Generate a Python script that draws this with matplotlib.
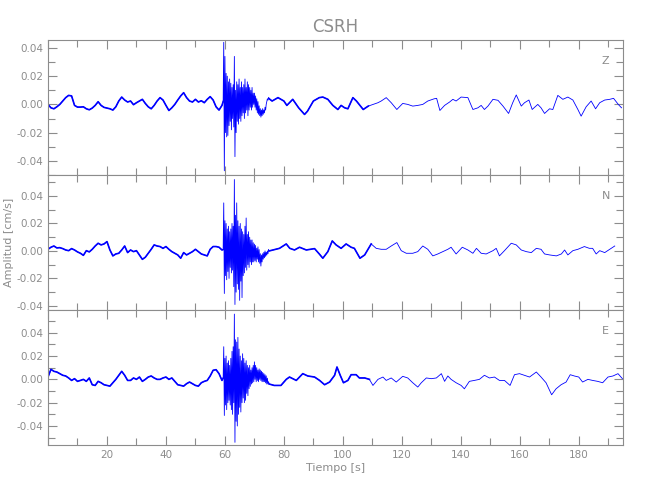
import matplotlib
matplotlib.use("Agg")
import matplotlib.pyplot as plt
import numpy as np
from matplotlib.ticker import MultipleLocator, FormatStrFormatter, FuncFormatter

# Componente Z: tramo previo (1 muestra/s desde t=0), ráfaga (cada 0.2 s desde 59.4 s), tramo posterior
z_pre = [0.0, -0.0024, -0.0031, -0.0017, 0.0, 0.0024, 0.0048, 0.0064, 0.0060, -0.0007,
         -0.0019, -0.0019, -0.0017, -0.0031, -0.0038, -0.0026, -0.0007, 0.0019, -0.0007, -0.0021,
         -0.0026, -0.0031, -0.0040, -0.0017, 0.0024, 0.0052, 0.0031, 0.0017, 0.0024, -0.0002,
         0.0012, 0.0024, 0.0036, 0.0007, -0.0017, -0.0031, -0.0007, 0.0024, 0.0048, 0.0031,
         -0.0007, -0.0043, -0.0024, 0.0, 0.0031, 0.0060, 0.0083, 0.0048, 0.0024, 0.0017,
         0.0036, 0.0017, 0.0026, 0.0012, 0.0036, 0.0055, 0.0031, -0.0017, -0.0040, -0.0007]
z_burst = [0.002, 0.044, -0.047, 0.034, -0.020, 0.022, -0.023, 0.020, -0.022, 0.016,
           -0.015, 0.018, -0.012, 0.015, -0.018, 0.012, -0.010, 0.014, -0.016, 0.034,
           -0.037, 0.010, -0.020, 0.016, -0.012, 0.014, -0.014, 0.018, -0.010, 0.012,
           -0.012, 0.016, -0.008, 0.012, -0.006, 0.014, -0.010, 0.018, -0.006, 0.012,
           -0.004, 0.016, -0.008, 0.014, -0.004, 0.012, -0.002, 0.010, -0.004, 0.012,
           -0.002, 0.008, 0.000, 0.008, -0.002, 0.006, -0.004, 0.004, -0.006, 0.002,
           -0.007, -0.001, -0.008, -0.003, -0.009, -0.004, -0.008, -0.003, -0.007, -0.004,
           -0.006, -0.002, -0.004, 0.000, 0.002, 0.004, 0.003, 0.005, 0.004]
z_post_t = [76, 78, 80, 81, 83, 85, 87, 88, 90, 92, 93.2, 94.9, 96.6, 98.3, 99.4, 100.6,
            101.7, 103.4, 104.6, 105.8, 106.9, 108.6, 110.2, 111.9, 113, 114.7, 116.4, 118.3,
            120.3, 122, 123.7, 125.4, 127.1, 128.8, 131, 131.8, 132.9, 134.5, 136.2, 137.3,
            138.4, 140.1, 142.4, 144.1, 145.8, 146.9, 148, 149.2, 150.9, 152.6, 154.3, 156.2,
            157.6, 158.8, 160.5, 161.6, 163.1, 164.2, 166.1, 167.2, 168.4, 170.1, 171.2, 172.9,
            174.6, 176.3, 178, 179.7, 180.8, 182.5, 184.2, 185.7, 187.1, 188.8, 190.5, 191.8,
            193.4, 194.5]
z_post = [0.0024, 0.0048, 0.0024, -0.0007, 0.0036, -0.0024, -0.0071, -0.0048, 0.0024, 0.0048,
          0.0052, 0.0036, -0.0007, -0.0036, -0.0007, -0.0024, -0.0031, 0.0048, 0.0024, -0.0007,
          -0.0036, -0.0012, 0.0, 0.0012, 0.0024, 0.0048, 0.0012, -0.0036, 0.0007, 0.0,
          -0.0012, -0.0007, 0.0, 0.0024, 0.0040, 0.0043, -0.0043, -0.0007, 0.0017, 0.0036,
          0.0024, 0.0052, 0.0048, -0.0036, -0.0024, -0.0007, -0.0036, -0.0012, 0.0036, 0.0029,
          -0.0012, -0.0064, 0.0012, 0.0067, -0.0012, 0.0012, 0.0031, -0.0036, 0.0, -0.0024,
          -0.0064, -0.0031, -0.0036, 0.0064, 0.0036, 0.0052, 0.0031, -0.0036, -0.0083, -0.0017,
          0.0024, -0.0031, 0.0012, 0.0031, 0.0036, 0.0043, 0.0, -0.0024]

# Componente N
n_pre = [0.0012, 0.0027, 0.0036, 0.0022, 0.0024, 0.0017, 0.0007, 0.0002, 0.0017, 0.0007,
         -0.0007, -0.0017, -0.0032, 0.0002, -0.0007, 0.0012, 0.0036, 0.0056, 0.0044, 0.0051,
         0.0068, 0.0007, -0.0036, -0.0022, -0.0017, 0.0007, 0.0036, -0.0012, 0.0007, -0.0005,
         0.0002, -0.0029, -0.0061, -0.0046, -0.0017, 0.0012, 0.0044, 0.0036, 0.0032, 0.0019,
         0.0032, 0.0012, -0.0005, -0.0017, -0.0029, -0.0053, -0.0012, -0.0029, -0.0017, -0.0005,
         0.0012, -0.0005, -0.0022, -0.0029, -0.0036, 0.0012, 0.0032, 0.0032, 0.0027, 0.0007]
n_burst = [0.001, 0.035, -0.031, 0.022, -0.018, 0.020, -0.021, 0.016, -0.015, 0.018,
           -0.020, 0.014, -0.012, 0.016, -0.016, 0.020, -0.014, 0.018, -0.026, 0.052,
           -0.039, 0.026, -0.030, 0.035, -0.024, 0.022, -0.028, 0.018, -0.036, 0.020,
           -0.022, 0.016, -0.034, 0.014, -0.018, 0.012, -0.016, 0.018, -0.012, 0.024,
           -0.014, 0.012, -0.010, 0.014, -0.012, 0.010, -0.008, 0.008, -0.010, 0.008,
           -0.008, 0.006, -0.008, 0.005, -0.007, 0.004, -0.008, 0.002, -0.006, 0.003,
           -0.008, 0.001, -0.009, -0.002, -0.011, -0.003, -0.008, -0.002, -0.006, -0.001,
           -0.005, 0.000, -0.004, -0.001, -0.003, 0.000, -0.002, 0.001, 0.000]
n_post_t = [76.3, 78.5, 80.8, 82, 83.6, 85.3, 87.6, 90.4, 92, 93.2, 94.9, 96.4, 97.7, 99.4,
            101.1, 102.8, 103.9, 105.8, 107.4, 109.6, 111.3, 113, 114.7, 116.4, 118.3, 119.8,
            121.5, 123.7, 125.4, 127.1, 128.8, 130.5, 132.2, 133.9, 135.6, 136.7, 138.4, 140.5,
            142.4, 144.1, 145.3, 146.9, 148.6, 150.9, 152, 153.1, 154.8, 157.1, 158.8, 160.5,
            162.2, 163.9, 165.6, 167.2, 168.4, 170.1, 172.4, 174.1, 175.2, 176.3, 178, 179.7,
            181.9, 183.6, 184.7, 185.9, 187.1, 188.8, 190.5, 192.2]
n_post = [0.0007, 0.0019, 0.0051, 0.0019, 0.0007, 0.0027, 0.0007, 0.0017, -0.0022, -0.0053,
          -0.0005, 0.0073, 0.0044, 0.0019, 0.0051, 0.0027, 0.0019, -0.0053, -0.0029, 0.0051,
          0.0019, 0.0012, 0.0012, 0.0036, 0.0061, 0.0002, -0.0017, -0.0017, -0.0005, 0.0036,
          0.0012, -0.0036, -0.0022, -0.0005, 0.0012, 0.0027, -0.0022, 0.0027, 0.0007, -0.0017,
          0.0019, -0.0017, -0.0022, 0.0002, 0.0019, -0.0036, 0.0002, 0.0056, 0.0044, 0.0007,
          -0.0005, -0.0012, 0.0019, 0.0012, -0.0022, -0.0029, -0.0036, -0.0022, 0.0007, -0.0029,
          0.0002, 0.0012, 0.0032, 0.0019, 0.0019, -0.0022, 0.0002, -0.0012, 0.0012, 0.0036]

# Componente E
e_pre = [0.0020, 0.0086, 0.0069, 0.0063, 0.0049, 0.0035, 0.0029, 0.0012, -0.0009, 0.0006,
         -0.0017, -0.0009, 0.0, -0.0017, 0.0012, -0.0046, -0.0052, -0.0017, -0.0029, -0.0046,
         -0.0052, -0.0058, -0.0029, 0.0, 0.0035, 0.0069, 0.0035, -0.0009, -0.0009, 0.0012,
         0.0, 0.0020, -0.0017, 0.0, 0.0020, 0.0029, 0.0012, 0.0, 0.0, 0.0012,
         0.0020, 0.0, 0.0012, -0.0017, -0.0046, -0.0052, -0.0058, -0.0037, -0.0023, -0.0037,
         -0.0052, -0.0058, -0.0029, -0.0017, -0.0009, 0.0029, 0.0078, 0.0083, 0.0049, -0.0009]
e_burst = [0.001, 0.028, -0.031, 0.018, -0.022, 0.020, -0.026, 0.014, -0.020, 0.016,
           -0.018, 0.012, -0.022, 0.018, -0.026, 0.024, -0.030, 0.028, -0.020, 0.056,
           -0.054, 0.034, -0.036, 0.032, -0.040, 0.036, -0.030, 0.026, -0.024, 0.020,
           -0.028, 0.016, -0.020, 0.022, -0.016, 0.018, -0.020, 0.014, -0.018, 0.016,
           -0.012, 0.012, -0.014, 0.010, -0.008, 0.012, -0.006, 0.008, -0.004, 0.010,
           -0.003, 0.012, -0.002, 0.015, 0.000, 0.012, -0.002, 0.010, -0.001, 0.008,
           -0.002, 0.009, 0.000, 0.008, -0.001, 0.007, -0.002, 0.006, -0.002, 0.005,
           -0.002, 0.004, -0.003, 0.003, -0.004, 0.001, -0.004, -0.002, -0.004]
e_post_t = [76.7, 79, 80.8, 81.9, 84.2, 86.4, 88.1, 90.4, 92.1, 93.8, 95.5, 97.2, 98, 99.1,
            100.2, 101.7, 102.8, 104.5, 105.6, 107.4, 109, 110.2, 111.9, 113.6, 114.7, 116.4,
            118.1, 120.3, 122, 123.7, 125.4, 126.6, 128.3, 130, 131.7, 133.4, 134.5, 135.6,
            136.7, 138.4, 140.1, 141.2, 142.9, 144.6, 146.3, 148, 149.7, 151.4, 153.1, 154.8,
            156.7, 158.2, 159.9, 161.6, 163.3, 165.6, 167.2, 168.9, 170.8, 172.3, 174, 175.7,
            177.1, 178.5, 180, 181.3, 183.1, 184.7, 186.4, 188.1, 189.9, 191.6, 193.3, 194.8]
e_post = [-0.0052, -0.0052, 0.0, 0.0020, -0.0009, 0.0049, 0.0029, 0.0020, -0.0009, -0.0046,
          -0.0023, 0.0035, 0.0106, 0.0035, -0.0029, -0.0009, 0.0040, 0.0040, 0.0012, 0.0012,
          0.0, -0.0052, 0.0, 0.0020, -0.0009, 0.0012, -0.0023, 0.0026, 0.0012, -0.0029,
          -0.0066, -0.0029, 0.0012, 0.0006, 0.0012, 0.0049, -0.0017, 0.0029, 0.0, -0.0029,
          -0.0052, -0.0081, -0.0017, -0.0009, 0.0, 0.0035, 0.0012, 0.0020, -0.0009, -0.0009,
          -0.0052, 0.0040, 0.0049, 0.0035, 0.0020, 0.0063, 0.0020, -0.0029, -0.0132, -0.0081,
          -0.0046, -0.0023, 0.0040, 0.0029, 0.0020, -0.0023, 0.0, -0.0009, -0.0017, -0.0029,
          0.0020, 0.0029, 0.0049, 0.0006]

componentes = ["Z", "N", "E"]
ylims = [(-0.0502, 0.0454), (-0.0430, 0.0553), (-0.0563, 0.0595)]
BURST_T0 = 59.4
BURST_DT = 0.2

trazas = [(z_pre, z_burst, z_post_t, z_post),
          (n_pre, n_burst, n_post_t, n_post),
          (e_pre, e_burst, e_post_t, e_post)]

gris = "#8c8c8c"
plt.rcParams["font.family"] = ["DejaVu Sans"]

fig = plt.figure(figsize=(6.5, 5), dpi=100)
left, width = 48 / 650, 575 / 650
bottoms = [1 - 175.3 / 500, 1 - 310 / 500, 1 - 445 / 500]
h = 135 / 500

for i in range(3):
    pre, burst, post_t, post = trazas[i]
    t = np.concatenate([np.arange(len(pre)),
                        BURST_T0 + BURST_DT * np.arange(len(burst)),
                        post_t])
    y = np.concatenate([pre, burst, post])
    ax = fig.add_axes([left, bottoms[i], width, h])
    # traza fina completa
    ax.plot(t, y, color="#0000ff", lw=0.6)
    # tramo con mas ruido (antes de ~110 s) se ve mas grueso
    en_rafaga = (t > BURST_T0) & (t < BURST_T0 + BURST_DT * (len(burst) - 1))
    grueso = np.where((t <= 110) & ~en_rafaga, y, np.nan)
    ax.plot(t, grueso, color="#0000ff", lw=1.2)

    ax.set_xlim(0, 195)
    ax.set_ylim(*ylims[i])
    ax.xaxis.set_major_locator(MultipleLocator(20))
    ax.xaxis.set_minor_locator(MultipleLocator(10))
    ax.xaxis.set_major_formatter(FuncFormatter(lambda v, p: "" if v == 0 else "%d" % v))
    ax.yaxis.set_major_locator(MultipleLocator(0.02))
    ax.yaxis.set_minor_locator(MultipleLocator(0.01))
    ax.yaxis.set_major_formatter(FormatStrFormatter("%.2f"))
    ax.tick_params(which="both", direction="in", top=True, right=True,
                   color=gris, labelcolor=gris, labelsize=7.5, width=0.8)
    ax.tick_params(which="major", length=6.5)
    ax.tick_params(which="minor", length=5)
    for s in ax.spines.values():
        s.set_color(gris)
        s.set_linewidth(0.8)
    if i < 2:
        ax.tick_params(labelbottom=False)
    ax.text(0.97, 0.848, componentes[i], transform=ax.transAxes, color=gris,
            fontsize=8, ha="center", va="center")
    if i == 0:
        ax.set_title("CSRH", color=gris, fontsize=12, pad=6)
    if i == 1:
        ax.set_ylabel("Amplitud [cm/s]", color=gris, fontsize=8, labelpad=2)
    if i == 2:
        ax.set_xlabel("Tiempo [s]", color=gris, fontsize=8, labelpad=2)

fig.savefig("out.png", dpi=100)
